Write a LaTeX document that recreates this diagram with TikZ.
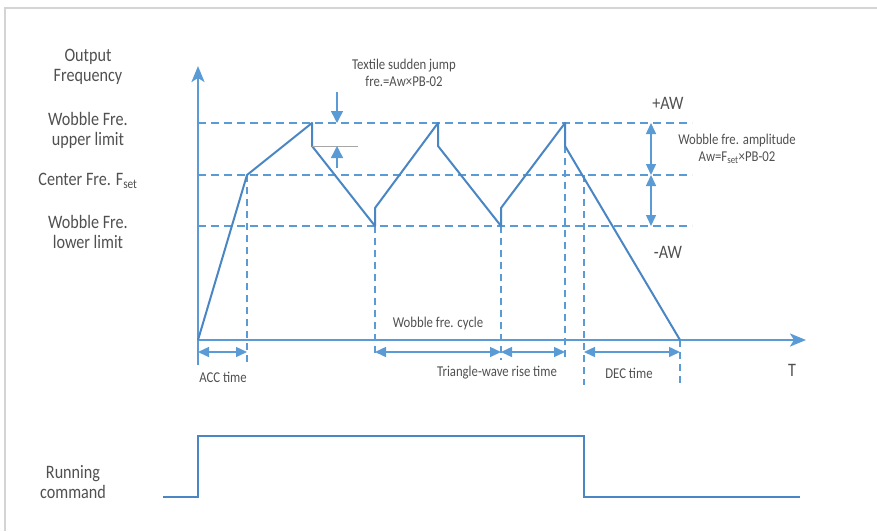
\documentclass[tikz,border=0pt]{standalone}
\usepackage{fontspec}
\setmainfont{Carlito}[FakeStretch=0.85]
\usetikzlibrary{arrows.meta}
\definecolor{axisblue}{HTML}{5B9BD5}
\definecolor{waveblue}{HTML}{4A86C3}
\definecolor{txt}{HTML}{505050}
\definecolor{framegray}{HTML}{D4D4D4}
\definecolor{jumpgray}{HTML}{A6A6A6}
\begin{document}
\begin{tikzpicture}[x=1pt,y=-1pt,
  big/.style={font=\fontsize{19}{20}\selectfont, text=txt, align=center, inner sep=0pt},
  small/.style={font=\fontsize{15}{17}\selectfont, text=txt, align=center, inner sep=0pt},
  dashline/.style={axisblue, line width=2.2pt, dash pattern=on 8pt off 5pt},
  vdash/.style={axisblue, line width=1.6pt, dash pattern=on 7pt off 5pt},
  wave/.style={waveblue, line width=2pt, line join=round},
  axisline/.style={axisblue, line width=2.5pt, -{Stealth[length=16pt,width=13pt,inset=4pt]}},
  dimarrow/.style={axisblue, line width=1.5pt, {Triangle[length=11pt,width=10pt]}-{Triangle[length=11pt,width=10pt]}},
  onearrow/.style={axisblue, line width=1.5pt, -{Triangle[length=12pt,width=12pt]}},
]
\useasboundingbox (0,0) rectangle (877,531);
\draw[framegray, line width=1.5pt] (5,531) -- (5,8) -- (877,8);

% key coordinates
\coordinate (o) at (198,340);
\coordinate (c1) at (247,175);
\coordinate (p1) at (312,123);
\coordinate (q1) at (312,146);
\coordinate (b1) at (375,226);
\coordinate (r1) at (375,208);
\coordinate (p2) at (438,123);
\coordinate (q2) at (438,146);
\coordinate (b2) at (501,226);
\coordinate (r2) at (501,208);
\coordinate (p3) at (565,123);
\coordinate (q3) at (565,146);
\coordinate (e) at (680,340);
\coordinate (d1) at (584,175);

% horizontal dashed levels
\draw[dashline] (198,123) -- (692,123);
\draw[dashline] (198,175) -- (692,175);
\draw[dashline] (198,226) -- (692,226);

% vertical dashed guides
\draw[vdash] (c1) -- (247,365);
\draw[vdash] (b1) -- (375,357);
\draw[vdash] (b2) -- (501,360);
\draw[vdash] (q3) -- (565,360);
\draw[vdash] (d1) -- (584,385);
\draw[vdash] (e) -- (680,385);

% axes
\draw[axisline] (198,365) -- (198,66);
\draw[axisline] (198,340) -- (806,340);

% waveform
\draw[wave] (o) -- (c1) -- (p1) -- (q1) -- (b1) -- (r1) -- (p2) -- (q2) -- (b2) -- (r2) -- (p3) -- (q3) -- (e);

% jump annotation
\draw[jumpgray, line width=1pt] (q1) -- (358,146);
\coordinate (ja) at (337,92);
\coordinate (jb) at (337,123);
\coordinate (jc) at (337,168);
\coordinate (jd) at (337,146);
\draw[onearrow] (ja) -- (jb);
\draw[onearrow] (jc) -- (jd);

% amplitude arrows
\coordinate (a1) at (651,123);
\coordinate (a2) at (651,175);
\coordinate (a3) at (651,226);
\draw[dimarrow] (a1) -- (a2);
\draw[dimarrow] (a2) -- (a3);

% time arrows
\coordinate (t0) at (198,352);
\coordinate (t1) at (247,352);
\coordinate (t2) at (375,352);
\coordinate (t3) at (501,352);
\coordinate (t4) at (565,352);
\coordinate (t5) at (584,352);
\coordinate (t6) at (680,352);
\draw[dimarrow] (t0) -- (t1);
\draw[dimarrow] (t2) -- (t3);
\draw[dimarrow] (t3) -- (t4);
\draw[dimarrow] (t5) -- (t6);

% running command
\coordinate (s0) at (163,497);
\coordinate (s1) at (198,497);
\coordinate (s2) at (198,436);
\coordinate (s3) at (584,436);
\coordinate (s4) at (584,497);
\coordinate (s5) at (800,497);
\draw[waveblue, line width=1.6pt] (s0) -- (s1) -- (s2) -- (s3) -- (s4) -- (s5);

% labels
\node[big] (lout) at (88,67) {Output\\Frequency};
\node[big] (lup) at (88,130) {Wobble Fre.\\upper limit};
\node[big] (lcen) at (88,181) {Center Fre. F\textsubscript{set}};
\node[big] (llow) at (88,232) {Wobble Fre.\\lower limit};
\node[small] (ljump) at (404,73) {Textile sudden jump\\fre.=Aw×PB-02};
\node[big] (lpaw) at (668,103) {+AW};
\node[big] (lmaw) at (668,252) {-AW};
\node[small] (lamp) at (737,149) {Wobble fre. amplitude\\Aw=F\textsubscript{set}×PB-02};
\node[small] (lcyc) at (438,323) {Wobble fre. cycle};
\node[small] (lacc) at (223,377) {ACC time};
\node[small] (ltri) at (497,373) {Triangle-wave rise time};
\node[small] (ldec) at (629,373) {DEC time};
\node[big] (lT) at (792,370) {T};
\node[big] (lrun) at (73,482) {Running\\command};
\end{tikzpicture}
\end{document}
